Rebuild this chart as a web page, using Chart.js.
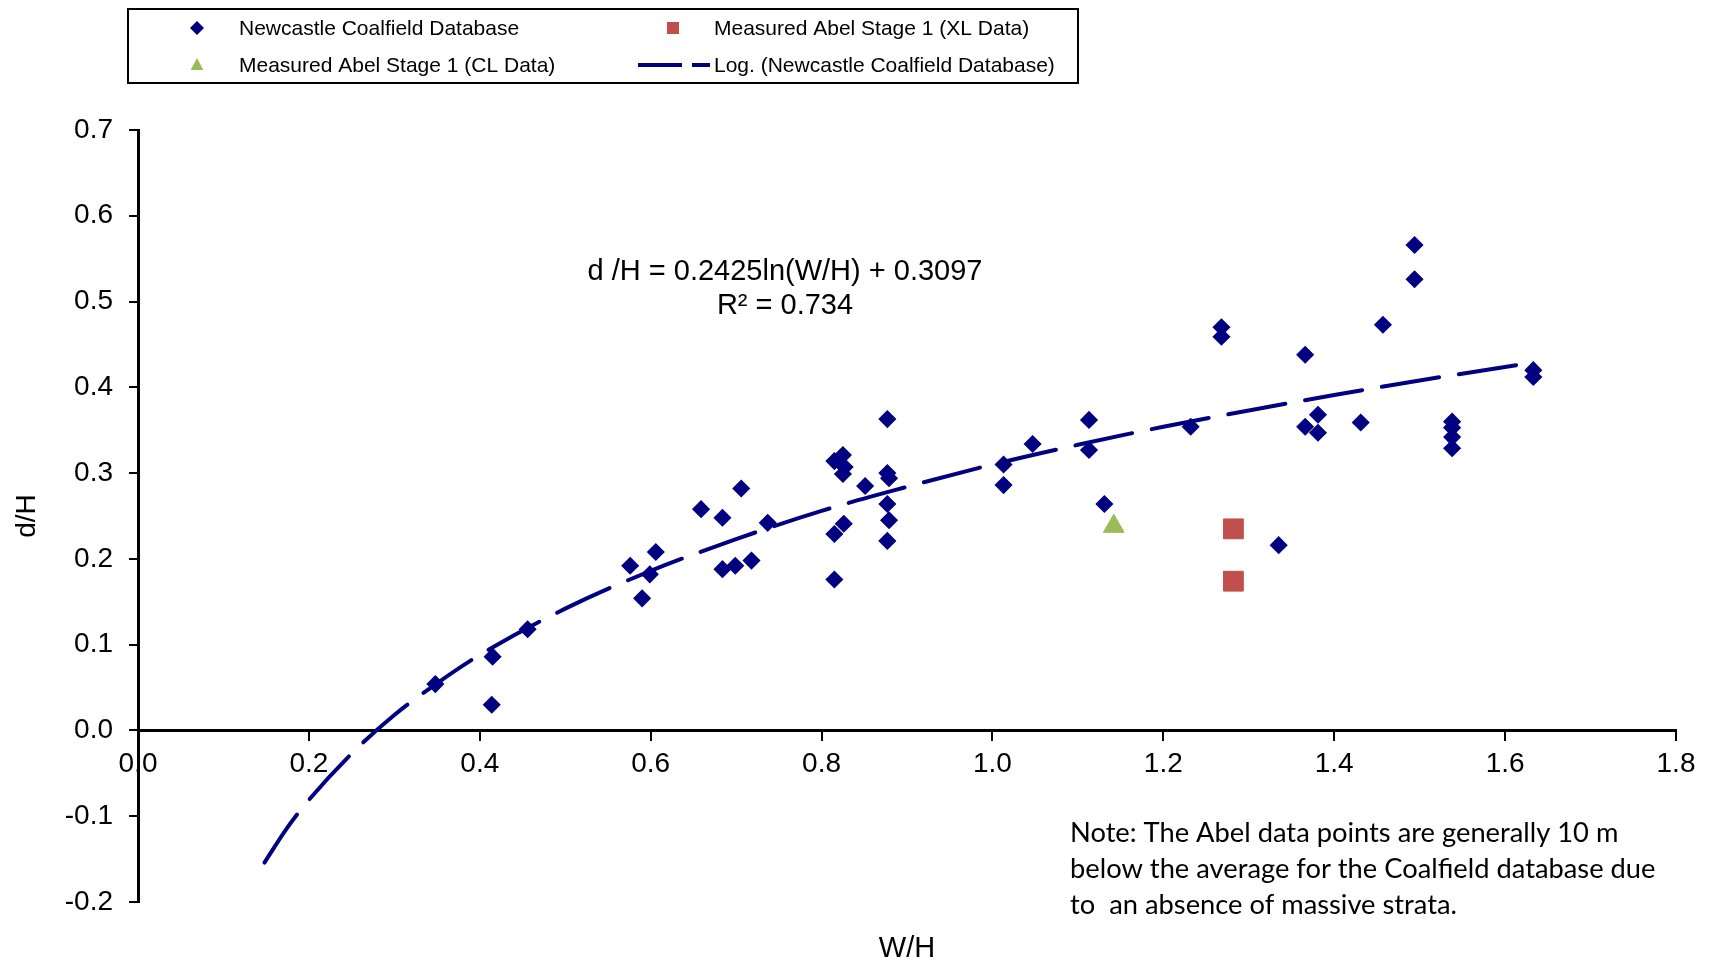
<!DOCTYPE html>
<html>
<head>
<meta charset="utf-8">
<title>d/H vs W/H</title>
<script src="https://cdn.jsdelivr.net/npm/chart.js"></script>
<style>
  html, body { margin: 0; padding: 0; background: #fff; }
  .chart-box { width: 1710px; height: 963px; position: relative; }
</style>
</head>
<body>
<div class="chart-box"><canvas id="myChart"></canvas></div>
<script>
// Newcastle Coalfield Database
const nccWH = [0.348, 0.415, 0.414, 0.456, 0.576, 0.590, 0.599, 0.606, 0.659, 0.684,
  0.684, 0.699, 0.706, 0.718, 0.737, 0.815, 0.825, 0.827, 0.825, 0.851,
  0.877, 0.877, 0.879, 0.877, 0.879, 0.877, 0.826, 0.815, 0.815, 1.013,
  1.013, 1.047, 1.113, 1.113, 1.131, 1.232, 1.268, 1.268, 1.335, 1.366,
  1.381, 1.366, 1.381, 1.431, 1.457, 1.494, 1.494, 1.538, 1.538, 1.538,
  1.538, 1.633, 1.633];
const nccDH = [0.054, 0.086, 0.030, 0.118, 0.192, 0.154, 0.182, 0.208, 0.258, 0.248,
  0.188, 0.192, 0.282, 0.198, 0.242, 0.314, 0.321, 0.307, 0.299, 0.285,
  0.363, 0.300, 0.294, 0.264, 0.245, 0.221, 0.241, 0.229, 0.176, 0.310,
  0.286, 0.334, 0.362, 0.327, 0.264, 0.354, 0.470, 0.459, 0.216, 0.438,
  0.368, 0.354, 0.347, 0.359, 0.473, 0.566, 0.526, 0.360, 0.353, 0.342,
  0.329, 0.420, 0.412];

// Measured Abel Stage 1
const xlWH = [1.282, 1.282];
const xlDH = [0.235, 0.174];
const clWH = [1.142];
const clDH = [0.238];

// Log. trendline
const trendWH = [0.148, 0.175, 0.2, 0.25, 0.3, 0.35, 0.4, 0.5, 0.6, 0.7,
  0.8, 0.9, 1.0, 1.1, 1.2, 1.3, 1.4, 1.5, 1.633];
const trendDH = [-0.154, -0.113, -0.081, -0.027, 0.018, 0.055, 0.088, 0.142, 0.186, 0.223,
  0.256, 0.284, 0.310, 0.333, 0.354, 0.373, 0.391, 0.408, 0.429];

const labels = [
  "Newcastle Coalfield Database",
  "Measured Abel Stage 1 (XL Data)",
  "Measured Abel Stage 1 (CL Data)",
  "Log. (Newcastle Coalfield Database)"
];
const xTicks = [0, 0.2, 0.4, 0.6, 0.8, 1.0, 1.2, 1.4, 1.6, 1.8];
const eqLines = ["d /H = 0.2425ln(W/H) + 0.3097", "R\u00b2 = 0.734"];
const noteLines = [
  "Note: The Abel data points are generally 10 m",
  "below the average for the Coalfield database due",
  "to  an absence of massive strata."
];

const toPts = (xs, ys) => xs.map((x, i) => ({ x: x, y: ys[i] }));
const fmt = (v) => (Math.abs(v) < 1e-9 ? 0 : Number(v)).toFixed(1);

const NAVY = "#000080";
const RED = "#C0504D";
const GREEN = "#9BBB59";
const FONT = "'Liberation Sans', Arial, Helvetica, sans-serif";

function marker(ctx, style, x, y, r) {
  ctx.beginPath();
  if (style === "rectRot") {
    ctx.moveTo(x - r, y); ctx.lineTo(x, y - r); ctx.lineTo(x + r, y); ctx.lineTo(x, y + r);
  } else if (style === "rect") {
    ctx.rect(x - r, y - r, 2 * r, 2 * r);
  } else {
    ctx.moveTo(x, y - r); ctx.lineTo(x + r * 0.9, y + r * 0.7); ctx.lineTo(x - r * 0.9, y + r * 0.7);
  }
  ctx.closePath();
  ctx.fill();
}

// legend box, equation and note
const annotations = {
  id: "annotations",
  afterDraw(chart) {
    const ctx = chart.ctx;
    const ds = chart.data.datasets;
    ctx.save();

    ctx.lineWidth = 2;
    ctx.strokeStyle = "#000";
    ctx.strokeRect(128, 9, 950, 74);

    const slots = [
      { mx: 197, tx: 239, y: 29 },
      { mx: 673, tx: 714, y: 29 },
      { mx: 197, tx: 239, y: 66 },
      { mx: 673, tx: 714, y: 66 }
    ];
    ctx.font = "21px " + FONT;
    ctx.textBaseline = "middle";
    ctx.textAlign = "left";
    ds.forEach((d, i) => {
      const s = slots[i];
      if (d.showLine) {
        ctx.strokeStyle = d.borderColor;
        ctx.lineWidth = 4;
        ctx.lineCap = "butt";
        ctx.setLineDash([44, 10]);
        ctx.beginPath();
        ctx.moveTo(638, s.y - 1); ctx.lineTo(710, s.y - 1);
        ctx.stroke();
        ctx.setLineDash([]);
      } else {
        ctx.fillStyle = d.backgroundColor;
        marker(ctx, d.pointStyle, s.mx, s.y - 1, d.pointStyle === "rect" ? 6 : 7);
      }
      ctx.fillStyle = "#000";
      ctx.fillText(d.label, s.tx, s.y);
    });

    ctx.font = "29px " + FONT;
    ctx.textAlign = "center";
    ctx.fillText(eqLines[0], 785, 272);
    ctx.fillText(eqLines[1], 785, 306);

    // note text, sized to the reference line width
    let size = 25;
    ctx.font = size + "px Lato, 'Open Sans', sans-serif";
    size = size * 586 / ctx.measureText(noteLines[1]).width;
    ctx.font = size.toFixed(1) + "px Lato, 'Open Sans', sans-serif";
    ctx.textAlign = "left";
    noteLines.forEach((t, i) => ctx.fillText(t, 1070, 833 + i * 36));

    ctx.restore();
  }
};

const ctx = document.getElementById("myChart");

new Chart(ctx, {
  type: "scatter",
  data: {
    datasets: [
      {
        label: labels[0],
        data: toPts(nccWH, nccDH),
        pointStyle: "rectRot",
        pointRadius: 8,
        borderWidth: 1.5,
        backgroundColor: NAVY,
        borderColor: NAVY
      },
      {
        label: labels[1],
        data: toPts(xlWH, xlDH),
        pointStyle: "rect",
        pointRadius: 14,
        borderWidth: 1,
        backgroundColor: RED,
        borderColor: RED
      },
      {
        label: labels[2],
        data: toPts(clWH, clDH),
        pointStyle: "triangle",
        pointRadius: 12,
        borderWidth: 1,
        backgroundColor: GREEN,
        borderColor: GREEN
      },
      {
        label: labels[3],
        data: toPts(trendWH, trendDH),
        showLine: true,
        pointRadius: 0,
        borderColor: NAVY,
        backgroundColor: NAVY,
        borderWidth: 4,
        borderDash: [58, 20],
        borderCapStyle: "round",
        cubicInterpolationMode: "monotone"
      }
    ]
  },
  options: {
    responsive: true,
    maintainAspectRatio: false,
    animation: false,
    layout: { padding: { top: 130, right: 34, left: 0, bottom: 0 } },
    plugins: {
      legend: { display: false },
      tooltip: { enabled: false }
    },
    scales: {
      x: {
        type: "linear",
        position: { y: 0 },
        min: 0,
        max: 1.8,
        afterBuildTicks: (scale) => { scale.ticks = xTicks.map(v => ({ value: v })); },
        grid: { drawOnChartArea: false, drawTicks: true, tickLength: 9, color: "#000", lineWidth: 2 },
        border: { display: true, color: "#000", width: 3 },
        ticks: {
          color: "#000",
          padding: 8,
          font: { family: FONT, size: 28 },
          callback: (v) => fmt(v)
        }
      },
      x2: {
        type: "linear",
        position: "bottom",
        min: 0,
        max: 1.8,
        grid: { display: false },
        border: { display: false },
        ticks: { display: false },
        afterFit: (scale) => { scale.height = 61; },
        title: {
          display: true,
          text: "W/H",
          color: "#000",
          padding: 0,
          font: { family: FONT, size: 29, lineHeight: 1.0 }
        }
      },
      y: {
        min: -0.2,
        max: 0.7,
        ticks: {
          stepSize: 0.1,
          color: "#000",
          padding: 16,
          font: { family: FONT, size: 28 },
          callback: (v) => fmt(v)
        },
        grid: { drawOnChartArea: false, drawTicks: true, tickLength: 9, color: "#000", lineWidth: 2 },
        border: { display: true, color: "#000", width: 3 },
        afterFit: (scale) => { scale.width = 138; },
        title: {
          display: true,
          text: "d/H",
          color: "#000",
          padding: { top: 10, bottom: 0 },
          font: { family: FONT, size: 28 }
        }
      }
    }
  },
  plugins: [annotations]
});
</script>
</body>
</html>
